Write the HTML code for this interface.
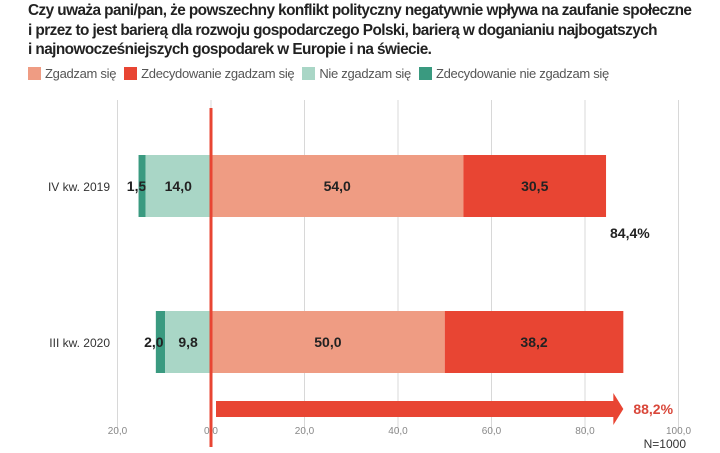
<!DOCTYPE html>
<html><head><meta charset="utf-8"><style>
body{margin:0;width:720px;height:453px;background:#fff;overflow:hidden;font-family:"Liberation Sans",sans-serif}
.title{position:absolute;left:28px;top:1px;font-size:16px;font-weight:bold;line-height:19.5px;color:#222;letter-spacing:-0.6px;transform:scaleX(0.96);transform-origin:left top;white-space:nowrap}
.legend{position:absolute;left:28px;top:66px;font-size:13px;color:#555;display:flex;gap:8px;align-items:center;letter-spacing:-0.3px}
.legend span.sw{display:inline-block;width:13px;height:13px;margin-right:4px;vertical-align:-2px}
</style></head><body>
<div class="title">Czy uważa pani/pan, że powszechny konflikt polityczny negatywnie wpływa na zaufanie społeczne<br>i przez to jest barierą dla rozwoju gospodarczego Polski, barierą w doganianiu najbogatszych<br>i najnowocześniejszych gospodarek w Europie i na świecie.</div>
<div class="legend">
<div><span class="sw" style="background:#ef9c83"></span>Zgadzam się</div>
<div><span class="sw" style="background:#e84533"></span>Zdecydowanie zgadzam się</div>
<div><span class="sw" style="background:#a9d6c6"></span>Nie zgadzam się</div>
<div><span class="sw" style="background:#3a9a80"></span>Zdecydowanie nie zgadzam się</div>
</div>
<svg id="c" width="720" height="453" style="position:absolute;left:0;top:0"></svg>
<script>
const categories=["IV kw. 2019","III kw. 2020"];
const agree=[54.0,50.0];
const stronglyAgree=[30.5,38.2];
const disagree=[14.0,9.8];
const stronglyDisagree=[1.5,2.0];
const totals=["84,4%","88,2%"];
const ticks=[-20,0,20,40,60,80,100];
const tickLabels=["20,0","0,0","20,0","40,0","60,0","80,0","100,0"];
const NS="http://www.w3.org/2000/svg";
const svg=document.getElementById('c');
const x=v=>211+v*4.675;
const yTop=[155,311],bh=62;
function mk(t,a,p){const e=document.createElementNS(NS,t);for(const k in a)e.setAttribute(k,a[k]);(p||svg).appendChild(e);return e;}
const fmt=v=>v.toFixed(1).replace('.',',');
ticks.forEach((t,i)=>{
 const g=mk('line',{x1:x(t),x2:x(t),y1:100,y2:432,stroke:'#d8d8d8','stroke-width':1});
 
 
 const l=mk('text',{x:x(t),y:434,'font-size':10,fill:'#888','text-anchor':'middle'});
 l.textContent=tickLabels[i];
 
 
});
categories.forEach((c,i)=>{
 const y0=yTop[i];
 const segs=[
  [-disagree[i]-stronglyDisagree[i],-disagree[i],'#3a9a80',stronglyDisagree[i],'bar-strongly-disagree'],
  [-disagree[i],0,'#a9d6c6',disagree[i],'bar-disagree'],
  [0,agree[i],'#ef9c83',agree[i],'bar-agree'],
  [agree[i],agree[i]+stronglyAgree[i],'#e84533',stronglyAgree[i],'bar-strongly-agree']];
 segs.forEach((s,j)=>{
  const r=mk('rect',{x:x(s[0]),y:y0,width:x(s[1])-x(s[0]),height:bh,fill:s[2]});
  
  
  let tx=(x(s[0])+x(s[1]))/2; if(j===0) tx=x(s[0])-2;
  const t=mk('text',{x:tx,y:y0+bh/2+5,'font-size':14,'font-weight':'bold',fill:'#222','text-anchor':'middle'});
  t.textContent=fmt(s[3]);
  
  
 });
 const cl=mk('text',{x:110,y:y0+bh/2+5,'font-size':12,fill:'#333','text-anchor':'end'});
 cl.textContent=c;
 
 
});
const t1=mk('text',{x:610,y:238,'font-size':14,'font-weight':'bold',fill:'#222'});
t1.textContent=totals[0];


const tot2=agree[1]+stronglyAgree[1];
const ar=mk('path',{d:`M${x(0)+5},401 H${x(tot2)-10} V393 L${x(tot2)},409 L${x(tot2)-10},425 V417 H${x(0)+5} Z`,fill:'#e84533'});


const t2=mk('text',{x:x(tot2)+10,y:414,'font-size':14,'font-weight':'bold',fill:'#d9473a'});
t2.textContent=totals[1];


const zl=mk('line',{x1:x(0),x2:x(0),y1:108,y2:447,stroke:'#e84533','stroke-width':3});


const n=mk('text',{x:686,y:448,'font-size':12,fill:'#333','text-anchor':'end'});
n.textContent="N=1000";


</script>
</body></html>
